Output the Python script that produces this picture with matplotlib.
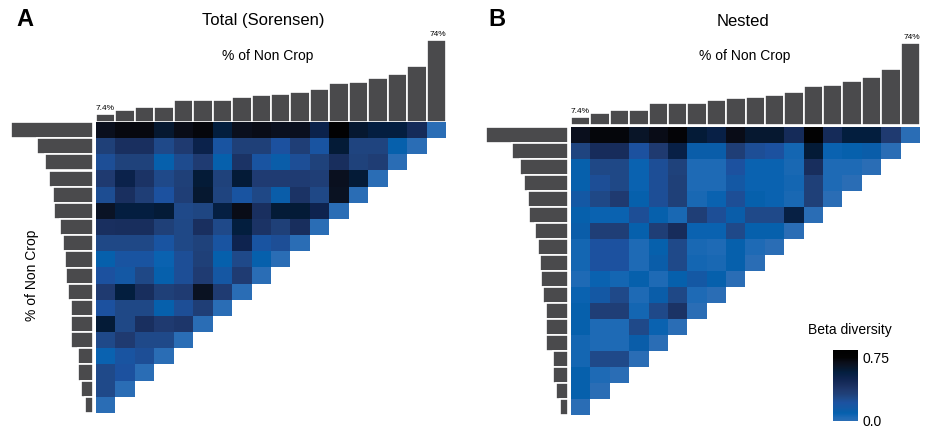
import numpy as np
import matplotlib.pyplot as plt
from matplotlib.colors import LinearSegmentedColormap

plt.rcParams['font.family'] = ['Liberation Sans', 'DejaVu Sans']

# % of non crop per site (ascending), same sites on both axes
pct_non_crop = [7.4, 11.0, 13.7, 13.7, 19.6, 20.2, 20.2, 22.9, 24.4, 25.0,
                27.4, 30.1, 35.2, 35.7, 39.9, 42.9, 50.4, 74.0]

# row r = site (17 - r), columns = sites 0 .. 17-r (last one is the diagonal)
total_beta = [
    [0.68, 0.72, 0.72, 0.62, 0.70, 0.73, 0.58, 0.68, 0.70, 0.67, 0.67, 0.52, 0.75, 0.62, 0.57, 0.57, 0.45, 0],
    [0.32, 0.42, 0.42, 0.27, 0.36, 0.52, 0.20, 0.32, 0.32, 0.22, 0.33, 0.20, 0.60, 0.30, 0.30, 0.10, 0],
    [0.24, 0.31, 0.31, 0.10, 0.26, 0.35, 0.10, 0.40, 0.20, 0.12, 0.24, 0.31, 0.43, 0.31, 0.34, 0],
    [0.36, 0.52, 0.40, 0.27, 0.32, 0.60, 0.31, 0.60, 0.35, 0.35, 0.35, 0.33, 0.67, 0.60, 0],
    [0.25, 0.42, 0.33, 0.22, 0.33, 0.62, 0.30, 0.20, 0.28, 0.12, 0.40, 0.28, 0.66, 0],
    [0.65, 0.57, 0.57, 0.60, 0.27, 0.29, 0.56, 0.70, 0.42, 0.60, 0.60, 0.50, 0],
    [0.42, 0.43, 0.43, 0.32, 0.28, 0.42, 0.27, 0.58, 0.40, 0.32, 0.43, 0],
    [0.28, 0.28, 0.28, 0.20, 0.28, 0.31, 0.20, 0.50, 0.20, 0.24, 0],
    [0.10, 0.20, 0.20, 0.08, 0.24, 0.32, 0.10, 0.27, 0.10, 0],
    [0.22, 0.16, 0.28, 0.10, 0.24, 0.35, 0.17, 0.35, 0],
    [0.36, 0.58, 0.43, 0.32, 0.35, 0.66, 0.35, 0],
    [0.22, 0.28, 0.28, 0.10, 0.24, 0.33, 0],
    [0.60, 0.28, 0.42, 0.36, 0.38, 0],
    [0.27, 0.36, 0.27, 0.27, 0],
    [0.08, 0.20, 0.24, 0],
    [0.27, 0.22, 0],
    [0.27, 0],
    [0],
]

nested_beta = [
    [0.68, 0.73, 0.73, 0.64, 0.70, 0.74, 0.60, 0.54, 0.70, 0.62, 0.62, 0.45, 0.75, 0.45, 0.58, 0.58, 0.36, 0],
    [0.30, 0.44, 0.44, 0.22, 0.36, 0.54, 0.12, 0.12, 0.33, 0.24, 0.22, 0.06, 0.60, 0.08, 0.10, 0.12, 0],
    [0.10, 0.28, 0.28, 0.08, 0.24, 0.31, 0.04, 0.04, 0.22, 0.08, 0.08, 0.05, 0.43, 0.04, 0.04, 0],
    [0.10, 0.24, 0.28, 0.08, 0.24, 0.32, 0.04, 0.04, 0.16, 0.08, 0.08, 0.06, 0.32, 0.04, 0],
    [0.16, 0.28, 0.36, 0.10, 0.24, 0.32, 0.05, 0.08, 0.24, 0.10, 0.08, 0.05, 0.32, 0],
    [0.10, 0.08, 0.08, 0.24, 0.10, 0.05, 0.33, 0.24, 0.12, 0.27, 0.27, 0.55, 0],
    [0.12, 0.33, 0.33, 0.10, 0.33, 0.44, 0.08, 0.08, 0.27, 0.10, 0.10, 0],
    [0.06, 0.22, 0.22, 0.04, 0.10, 0.27, 0.05, 0.04, 0.10, 0.04, 0],
    [0.06, 0.22, 0.22, 0.04, 0.12, 0.27, 0.06, 0.05, 0.10, 0],
    [0.04, 0.08, 0.06, 0.10, 0.04, 0.10, 0.16, 0.10, 0],
    [0.08, 0.16, 0.27, 0.04, 0.12, 0.28, 0.04, 0],
    [0.10, 0.33, 0.33, 0.06, 0.27, 0.40, 0],
    [0.10, 0.04, 0.04, 0.27, 0.08, 0],
    [0.06, 0.04, 0.04, 0.12, 0],
    [0.06, 0.27, 0.27, 0],
    [0.10, 0.04, 0],
    [0.10, 0],
    [0],
]

VMAX = 0.84
stops = [(0.0, '#2a6db5'), (0.04, '#1e6ab5'), (0.08, '#0a62b0'), (0.10, '#0660ac'),
         (0.16, '#1558a4'), (0.22, '#1c52a0'), (0.27, '#1f4a8a'), (0.32, '#1f4078'),
         (0.36, '#1f3a70'), (0.42, '#1a3060'), (0.50, '#0f2450'), (0.58, '#031e3e'),
         (0.65, '#0a1426'), (0.70, '#0a0d18'), (0.75, '#030304'), (0.84, '#000000')]
cmap = LinearSegmentedColormap.from_list('beta', [(v / VMAX, c) for v, c in stops])
cmap.set_bad('white', 0)

BAR = '#4a4a4c'
W, H = 927, 429
fig = plt.figure(figsize=(W / 100, H / 100), dpi=100)


def px_axes(x0, y0, x1, y1):
    return fig.add_axes([x0 / W, 1 - y1 / H, (x1 - x0) / W, (y1 - y0) / H])


def draw_panel(rows, hm_box, top_box, left_box):
    n = len(pct_non_crop)
    grid = np.full((n, n), np.nan)
    for r, row in enumerate(rows):
        grid[r, :len(row)] = row

    ax = px_axes(*hm_box)
    im = ax.imshow(np.ma.masked_invalid(grid), cmap=cmap, vmin=0, vmax=VMAX,
                   aspect='auto', interpolation='nearest')
    ax.axis('off')

    axt = px_axes(*top_box)
    axt.bar(np.arange(n), pct_non_crop, width=1, color=BAR, edgecolor='white', linewidth=1.2)
    axt.set_xlim(-0.5, n - 0.5)
    axt.set_ylim(0, 75.8)
    axt.axis('off')
    axt.text(-0.5, pct_non_crop[0] + 1.8, f'{pct_non_crop[0]}%', fontsize=6,
             ha='left', va='bottom', clip_on=False)
    axt.text(n - 0.5, pct_non_crop[-1] + 1.8, f'{pct_non_crop[-1]:.0f}%', fontsize=6,
             ha='right', va='bottom', clip_on=False)

    axl = px_axes(*left_box)
    axl.barh(np.arange(n), pct_non_crop[::-1], height=1, color=BAR,
             edgecolor='white', linewidth=1.2)
    axl.set_ylim(n - 0.5, -0.5)
    axl.set_xlim(75.8, 0)
    axl.axis('off')
    return im


draw_panel(total_beta, (96, 122, 446, 413), (96, 38, 446, 122), (9, 122, 93, 413))
im = draw_panel(nested_beta, (571, 127, 920, 415), (571, 41, 920, 125), (484, 127, 568, 415))


def ftext(x, y, s, **kw):
    fig.text(x / W, 1 - y / H, s, ha='center', va='center', **kw)


ftext(25, 19, 'A', fontsize=17, fontweight='bold')
ftext(497, 20, 'B', fontsize=17, fontweight='bold')
ftext(263, 21, 'Total (Sorensen)', fontsize=12)
ftext(743, 21, 'Nested', fontsize=12)
ftext(268, 56, '% of Non Crop', fontsize=10)
ftext(745, 56, '% of Non Crop', fontsize=10)
ftext(32, 275, '% of Non Crop', fontsize=10, rotation=90)

cax = px_axes(833, 350, 858, 421)
cb = fig.colorbar(im, cax=cax, ticks=[0, 0.75])
cb.ax.set_yticklabels(['0.0', '0.75'], fontsize=10)
cb.ax.tick_params(length=0, pad=3)
cb.outline.set_visible(False)
ftext(850, 330, 'Beta diversity', fontsize=10)

fig.savefig('out.png', dpi=100)
